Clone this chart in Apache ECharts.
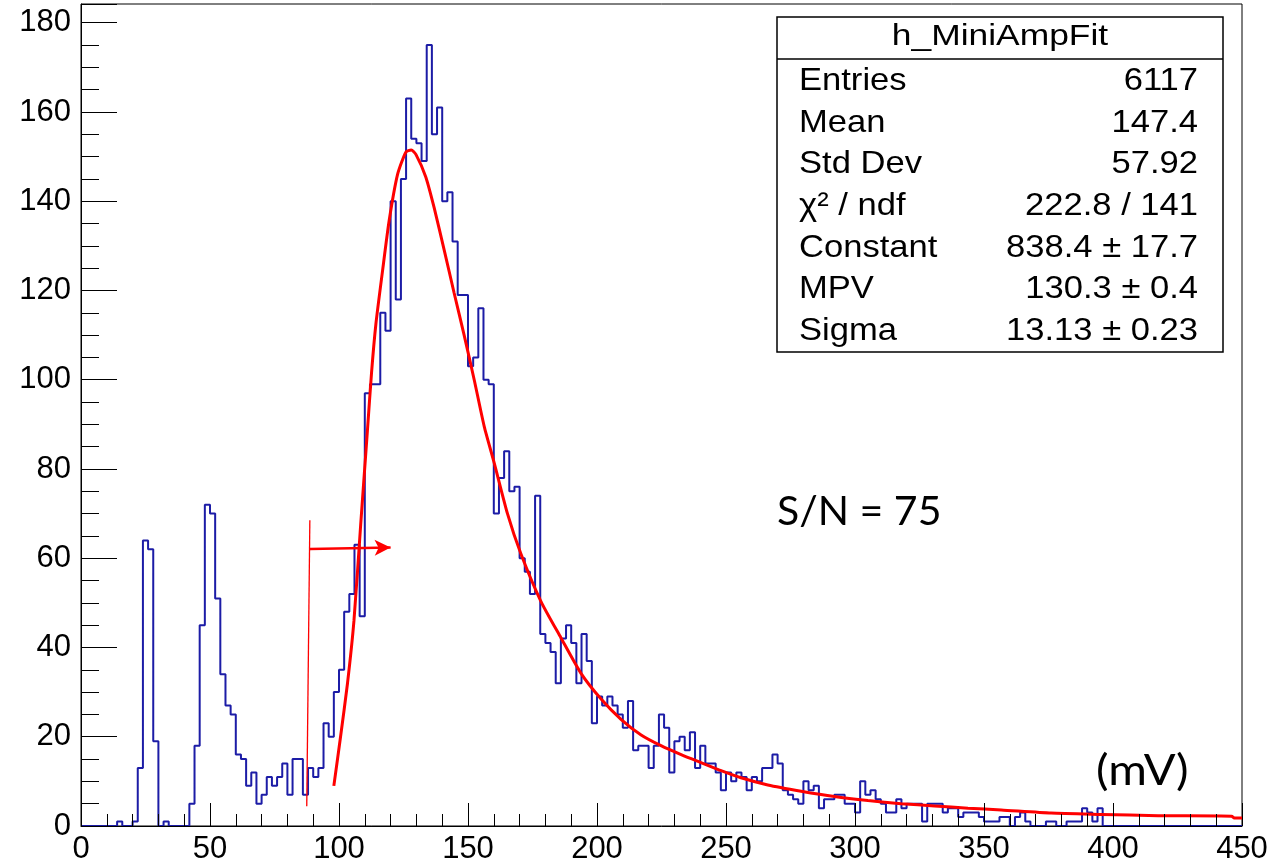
<!DOCTYPE html>
<html><head><meta charset="utf-8">
<script src="https://cdn.jsdelivr.net/npm/echarts@6/dist/echarts.min.js"></script>
<style>html,body{margin:0;padding:0;background:#fff}#c{width:1288px;height:868px}</style>
</head><body><div id="c"></div>
<script>
// ---- data ----
const binWidth = 2; // mV per bin, histogram from 0 to 450 mV
const counts = [
  0,0,0,0,0,0,0,1,0,0, 1,13,64,62,19,0,1,0,0,0,
  0,5,18,45,72,70,51,34,27,25, 16,15,9,12,5,7,11,9,11,14,
  7,15,15,7,13,11,13,23,20,30, 35,48,52,63,47,97,99,99,115,111,
  140,118,145,163,154,153,149,175,155,161, 140,142,131,119,119,103,105,116,100,99,
  70,78,84,75,76,60,57,52,74,43, 41,39,32,42,45,41,32,43,37,23,
  29,27,29,27,25,22,28,17,18,18, 13,18,25,22,12,19,20,17,21,13,
  18,14,14,12,8,12,10,12,11,8, 11,10,13,13,16,14,8,7,6,5,
  10,8,9,4,6,6,7,7,5,5, 3,10,7,8,6,5,3,3,6,4,
  5,5,5,1,5,5,5,3,4,4, 2,3,3,3,2,1,1,1,2,2,
  0,2,3,1,0,0,0,1,1,0, 0,1,1,1,4,3,1,4,0,0,
  0,0,0,0,0,0,0,0,0,0, 0,0,0,0,0,0,0,0,0,0,
  0,0,0,0,0
];
const fitX = [98,100.6,103.3,105.8,108.4,111,112.6,114.3,116.9,119.4,122.7,125.9,128,129.8,133.6,136.9,
  140.8,144.6,148.5,152.4,156.3,160.1,165.3,170.5,178.3,186,193.8,201.5,209.3,217.1,224.8,232.6,
  240.3,248.1,255.8,266.2,279.1,292,305,317.9,330.8,343.8,356.7,376,395.5,417.5,446,447,450];
const fitY = [9,20,32,46,67.5,88.5,101.5,112.5,124.5,135.5,146,151,151.5,150.5,145.5,138.5,
  129,119.5,110,100,89.5,81.5,70,61,50.3,42.2,34.2,28.5,23.9,20.4,18,16,
  14.2,12.4,10.8,9.2,7.8,6.6,5.7,5.0,4.5,4.0,3.6,2.9,2.6,2.3,2.2,1.8,1.8];
const xRange = [0, 450], xStep = 50;
const yRange = [0, 184.2], yStep = 20;
const cutLine = [[88.7, 68.5], [87.5, 4.4]];
const cutArrow = [[88.7, 62.1], [120, 62.4]];
const statTitle = 'h_MiniAmpFit';
const statLabels = ['Entries','Mean','Std Dev','\u03c7\u00b2 / ndf','Constant','MPV','Sigma'];
const statValues = ['6117','147.4','57.92','222.8 / 141','838.4 \u00b1 17.7','130.3 \u00b1 0.4','13.13 \u00b1 0.23'];
const noteSN = 'S/N = 75';
const noteUnit = '(mV)';

// ---- build ----
const histData = counts.map((c, i) => [i * binWidth, c]);
histData.push([counts.length * binWidth, counts[counts.length - 1]]);
const fitData = fitX.map((x, i) => [x, fitY[i]]);

const FONT = '"Liberation Sans", Arial, Helvetica, sans-serif';
const NOTE_FONT = 'Lato, "Open Sans", sans-serif';
const graphics = [
  {type:'rect', shape:{x:777, y:17, width:446, height:335}, style:{fill:'#fff', stroke:'#000', lineWidth:1.5}, z:10},
  {type:'line', shape:{x1:777, y1:59, x2:1223, y2:59}, style:{stroke:'#000', lineWidth:1.5}, z:11},
  {type:'text', x:1000, y:37, scaleX:1.18, z:11, style:{text:statTitle, font:'30px ' + FONT, fill:'#000', align:'center', verticalAlign:'middle'}}
];
statLabels.forEach((t, i) => {
  const y = 81 + i * 41.7;
  graphics.push({type:'text', x:799, y:y, scaleX:1.08, z:11, style:{text:t, font:'32px ' + FONT, fill:'#000', align:'left', verticalAlign:'middle'}});
  graphics.push({type:'text', x:1198, y:y, scaleX:1.08, z:11, style:{text:statValues[i], font:'32px ' + FONT, fill:'#000', align:'right', verticalAlign:'middle'}});
});
graphics.push({type:'text', x:777, y:512, z:11, style:{text:noteSN, font:'41px ' + NOTE_FONT, fill:'#000', align:'left', verticalAlign:'middle'}});
graphics.push({type:'text', x:1096, y:771, scaleX:1.12, z:11, style:{text:noteUnit, font:'42px ' + NOTE_FONT, fill:'#000', align:'left', verticalAlign:'middle'}});

const chart = echarts.init(document.getElementById('c'), null, {renderer:'canvas'});
chart.setOption({
  animation: false,
  backgroundColor: '#fff',
  grid: {left:81, right:46, top:4, bottom:42, show:true, borderColor:'#000', borderWidth:1, backgroundColor:'transparent', outerBoundsMode:'none'},
  xAxis: {
    type:'value', min:xRange[0], max:xRange[1], interval:xStep, z:5,
    axisLine:{lineStyle:{color:'#000', width:1}},
    axisTick:{inside:true, length:23, lineStyle:{color:'#000', width:1}},
    minorTick:{show:true, splitNumber:5, length:12, lineStyle:{color:'#000', width:1}},
    axisLabel:{color:'#000', fontFamily:FONT, fontSize:31, margin:8},
    splitLine:{show:false}
  },
  yAxis: {
    type:'value', min:yRange[0], max:yRange[1], interval:yStep, z:5,
    axisLine:{lineStyle:{color:'#000', width:1}},
    axisTick:{inside:true, length:36, lineStyle:{color:'#000', width:1}},
    minorTick:{show:true, splitNumber:4, length:18, lineStyle:{color:'#000', width:1}},
    axisLabel:{color:'#000', fontFamily:FONT, fontSize:31, margin:10, showMaxLabel:false},
    splitLine:{show:false}
  },
  series: [
    {type:'line', data:histData, step:'end', symbol:'none', lineStyle:{color:'#1c1ca6', width:2}, silent:true, z:2},
    {type:'line', data:fitData, smooth:0.2, symbol:'none', lineStyle:{color:'#ff0000', width:3}, silent:true, z:3,
     markLine:{silent:true, animation:false, label:{show:false}, emphasis:{disabled:true},
       data:[
         [{coord:cutLine[0], symbol:'none', lineStyle:{color:'#ff0000', width:1.3, type:'solid'}}, {coord:cutLine[1], symbol:'none'}],
         [{coord:cutArrow[0], symbol:'none', lineStyle:{color:'#ff0000', width:2.5, type:'solid'}}, {coord:cutArrow[1], symbol:'arrow', symbolSize:[12,16]}]
       ]}}
  ],
  graphic: graphics
});
</script></body></html>
